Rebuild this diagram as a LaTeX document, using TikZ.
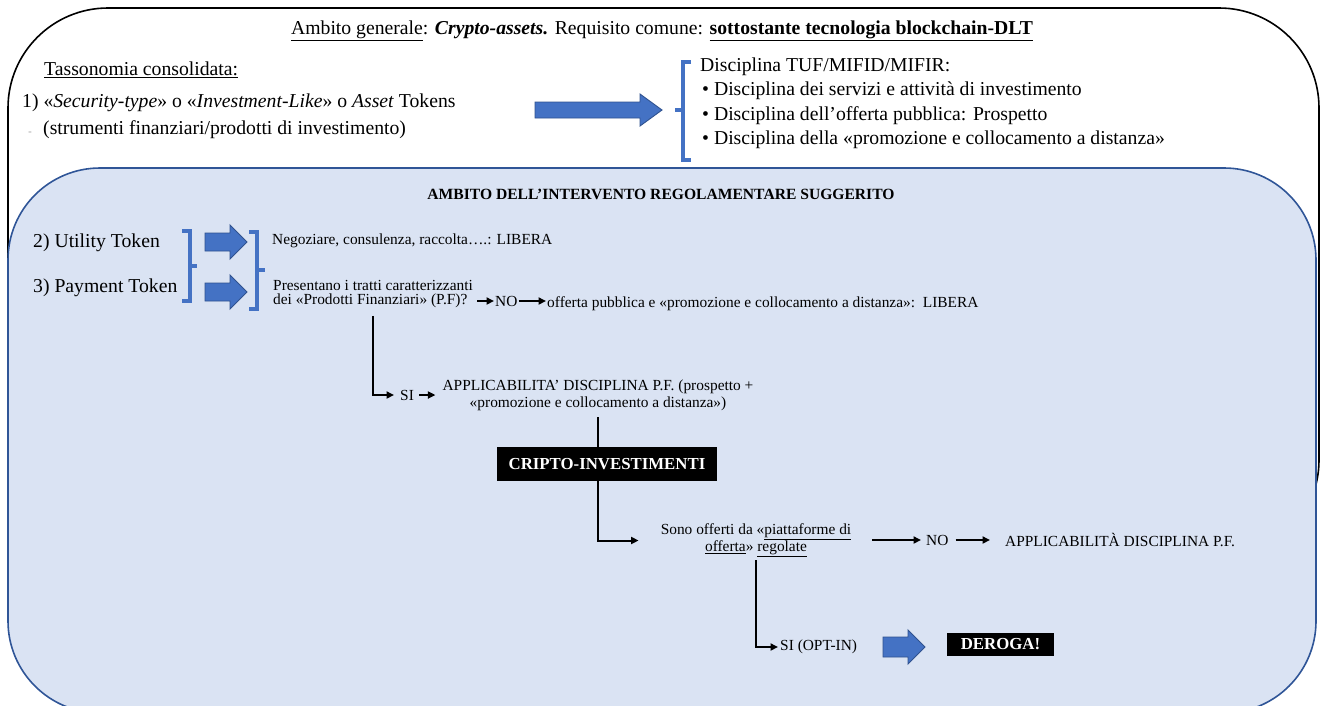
\documentclass[tikz,border=0pt]{standalone}
\usepackage{fontspec}
\setmainfont{Liberation Serif}
\usetikzlibrary{arrows.meta,calc}
\definecolor{arrowblue}{HTML}{4472C4}
\definecolor{arrowdark}{HTML}{2F528F}
\definecolor{panelblue}{HTML}{DAE3F3}
\definecolor{paneledge}{HTML}{2F5597}
\begin{document}
\begin{tikzpicture}[x=1pt,y=-1pt,
  big/.style={font=\fontsize{19.7}{22}\selectfont, inner sep=0pt},
  sm/.style={font=\fontsize{15.4}{17}\selectfont, inner sep=0pt},
  conn/.style={line width=2pt, -{Triangle[length=7.5pt,width=7pt]}},
  plain/.style={line width=2pt},
  fat/.style={fill=arrowblue, draw=arrowdark, line width=0.9pt},
  brk/.style={draw=arrowblue, line width=3.2pt},
  blk/.style={fill=black, text=white, font=\fontsize{16.8}{18}\selectfont\bfseries, inner sep=0pt}
]
\useasboundingbox (0,0) rectangle (1322,705);
% outer frame and panel
\draw[line width=1.6pt, rounded corners=100pt] (8,8) rectangle (1319,560);
\draw[draw=paneledge, fill=panelblue, line width=1.6pt, rounded corners=92pt] (8,168) rectangle (1316,713);

% top section
\node[big] (title) at (662,31) {\underline{Ambito generale}: \textbf{\textit{Crypto-assets.}} Requisito comune: \textbf{\underline{sottostante tecnologia blockchain-DLT}}};
\node[big, anchor=west] (tass) at (44,70) {\underline{Tassonomia consolidata:}};
\node[big, anchor=west] (item1) at (22,103) {1) «\textit{Security-type}» o «\textit{Investment-Like}» o \textit{Asset} Tokens};
\node[font=\fontsize{6}{7}\selectfont, text=gray, inner sep=0pt] (eq) at (30,133) {=};
\node[big, anchor=west] (strum) at (43,130) {(strumenti finanziari/prodotti di investimento)};

\draw[fat] (535,102) -- (640,102) -- (640,94) -- (662,110) -- (640,126) -- (640,118) -- (535,118) -- cycle;
\draw[brk] (691,62) -- (683,62) -- (683,160) -- (691,160);
\draw[brk] (683,110) -- (675,110);

\node[big, anchor=west] (d0) at (700,67) {Disciplina TUF/MIFID/MIFIR:};
\node[big, anchor=west] (d1) at (702,91) {• Disciplina dei servizi e attività di investimento};
\node[big, anchor=west] (d2) at (702,116) {• Disciplina dell’offerta pubblica: Prospetto};
\node[big, anchor=west] (d3) at (702,140) {• Disciplina della «promozione e collocamento a distanza»};

% panel content
\node[font=\fontsize{15.6}{17}\selectfont\bfseries, inner sep=0pt] (amb) at (661,194) {AMBITO DELL’INTERVENTO REGOLAMENTARE SUGGERITO};
\node[big, anchor=west] (util) at (33,243) {2) Utility Token};
\node[big, anchor=west] (pay) at (33,288) {3) Payment Token};

\draw[brk] (182,231) -- (190,231) -- (190,301) -- (182,301);
\draw[brk] (190,266) -- (197,266);
\draw[fat] (205,233) -- (230,233) -- (230,225) -- (247,242) -- (230,259) -- (230,251) -- (205,251) -- cycle;
\draw[fat] (205,283) -- (230,283) -- (230,275) -- (247,292) -- (230,309) -- (230,301) -- (205,301) -- cycle;
\draw[brk] (249,232) -- (257,232) -- (257,309) -- (249,309);
\draw[brk] (257,270) -- (265,270);

\node[sm, anchor=west] (neg) at (272,241) {Negoziare, consulenza, raccolta….: LIBERA};
\node[font=\fontsize{15.4}{14}\selectfont, inner sep=0pt, anchor=west, align=left] (pres) at (273,294) {Presentano i tratti caratterizzanti\\dei «Prodotti Finanziari» (P.F)?};
\node[sm, anchor=west] (no1) at (495,301) {NO};
\node[sm, anchor=west] (off) at (547,304) {offerta pubblica e «promozione e collocamento a distanza»:\ \ LIBERA};
\draw[conn] ($(pres.east |- no1.west)+(4,0)$) -- ($(no1.west)+(-1,0)$);
\draw[conn] ($(no1.east)+(1,0)$) -- ($(no1.east -| off.west)+(-1,0)$);

\node[sm, anchor=west] (si1) at (400,395) {SI};
\node[sm, align=center] (appl1) at (598,395.5) {APPLICABILITA’ DISCIPLINA P.F. (prospetto +\\«promozione e collocamento a distanza»)};
\draw[conn] ($(pres.south)+(0,8)$) |- ($(si1.west)+(-6,0)$);
\draw[conn] ($(si1.east)+(5,0)$) -- ($(si1.east -| appl1.west)+(-7,0)$);

\node[blk, minimum width=220pt, minimum height=34pt] (crip) at (607,464) {CRIPTO-INVESTIMENTI};
\draw[plain] ($(appl1.south)+(0,6)$) -- (appl1.south |- crip.north);

\node[sm, align=center] (sono) at (756,540.5) {Sono offerti da «\underline{piattaforme di}\\\underline{offerta}» \underline{regolate}};
\draw[conn] (crip.south -| appl1.south) |- ($(sono.west)+(-22,0)$);

\node[sm, anchor=west] (no2) at (926,540) {NO};
\node[sm, anchor=west] (appl2) at (1005,540) {APPLICABILITÀ DISCIPLINA P.F.};
\draw[conn] ($(sono.east |- no2.west)+(21,0)$) -- ($(no2.west)+(-5,0)$);
\draw[conn] ($(no2.east)+(7,0)$) -- ($(appl2.west)+(-15,0)$);

\node[sm, anchor=west] (si2) at (780,647) {SI (OPT-IN)};
\draw[conn] ($(sono.south)+(0,3)$) |- ($(si2.west)+(-2,0)$);
\draw[fat] (883,637) -- (908,637) -- (908,630) -- (925,647) -- (908,664) -- (908,657) -- (883,657) -- cycle;
\node[blk, minimum width=107pt, minimum height=23pt] (der) at (1000.5,644.5) {DEROGA!};
\end{tikzpicture}
\end{document}
